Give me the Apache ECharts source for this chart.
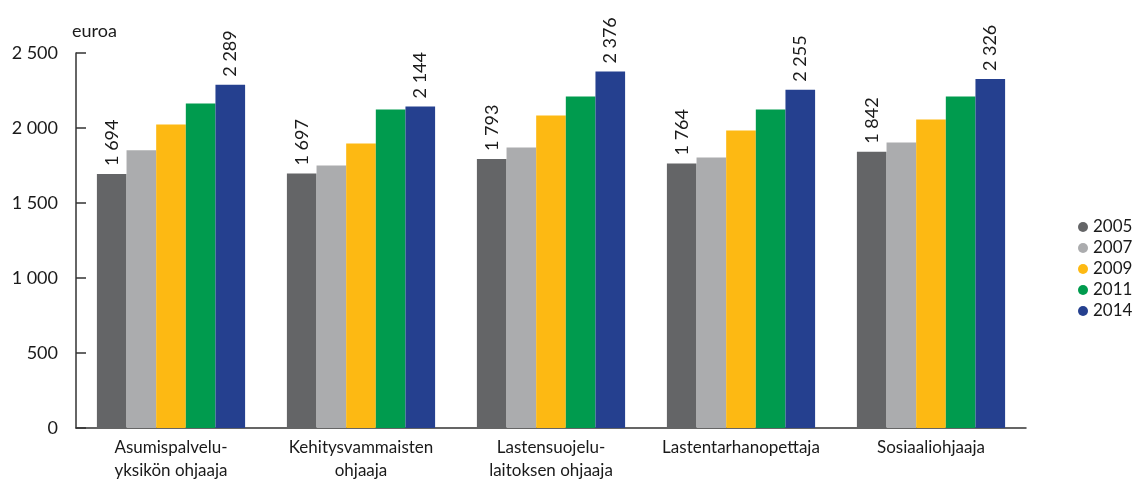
<!DOCTYPE html>
<html>
<head>
<meta charset="utf-8">
<script src="https://cdn.jsdelivr.net/npm/echarts@6/dist/echarts.min.js"></script>
<style>
  html, body { margin: 0; padding: 0; background: #fff; }
  #chart { width: 1138px; height: 484px; }
</style>
</head>
<body>
<div id="chart"></div>
<script>
const categories = [
  "Asumispalvelu-\nyksikön ohjaaja",
  "Kehitysvammaisten\nohjaaja",
  "Lastensuojelu-\nlaitoksen ohjaaja",
  "Lastentarhanopettaja",
  "Sosiaaliohjaaja"
];
const years = ["2005", "2007", "2009", "2011", "2014"];
const v2005 = [1694, 1697, 1793, 1764, 1842];
const v2007 = [1852, 1750, 1870, 1803, 1903];
const v2009 = [2023, 1897, 2083, 1983, 2057];
const v2011 = [2163, 2123, 2210, 2123, 2210];
const v2014 = [2289, 2144, 2376, 2255, 2326];
const colors = ["#646567", "#abacae", "#fdb913", "#009b4e", "#25408f"];

const fmt = v => String(v).replace(/\B(?=(\d{3})+(?!\d))/g, " ");
const font = "Lato";

const chart = echarts.init(document.getElementById("chart"));

// only first and last year get value labels
const mkSeries = (name, data, labelled) => ({
  name: name,
  type: "bar",
  data: data,
  barGap: "0%",
  barCategoryGap: "22%",
  label: {
    show: labelled,
    position: "top",
    rotate: 90,
    align: "left",
    verticalAlign: "middle",
    distance: 8,
    fontFamily: font,
    fontSize: 18,
    color: "#1a1a1a",
    formatter: p => fmt(p.value)
  }
});

chart.setOption({
  animation: false,
  color: colors,
  textStyle: { fontFamily: font },
  title: {
    text: "euroa",
    left: 67,
    top: 17,
    textStyle: { fontFamily: font, fontSize: 18, fontWeight: "normal", color: "#1a1a1a" }
  },
  legend: {
    data: years,
    orient: "vertical",
    left: 1073,
    top: 213,
    icon: "circle",
    itemWidth: 10,
    itemHeight: 10,
    itemGap: 3,
    textStyle: { fontFamily: font, fontSize: 17, lineHeight: 18, color: "#1a1a1a" }
  },
  grid: { left: 76, right: 112, top: 53, bottom: 56 },
  xAxis: {
    type: "category",
    data: categories,
    axisLine: { lineStyle: { color: "#333", width: 1.5 } },
    axisTick: { show: false },
    axisLabel: {
      interval: 0,
      margin: 8,
      fontFamily: font,
      fontSize: 17,
      lineHeight: 23,
      color: "#1a1a1a"
    }
  },
  yAxis: {
    type: "value",
    min: 0,
    max: 2500,
    interval: 500,
    axisLine: { show: true, lineStyle: { color: "#333", width: 1.5 } },
    axisTick: { show: true, inside: true, length: 10, lineStyle: { color: "#333", width: 1.5 } },
    splitLine: { show: false },
    axisLabel: {
      margin: 18,
      fontFamily: font,
      fontSize: 18,
      color: "#1a1a1a",
      formatter: v => fmt(v)
    }
  },
  series: [
    mkSeries(years[0], v2005, true),
    mkSeries(years[1], v2007, false),
    mkSeries(years[2], v2009, false),
    mkSeries(years[3], v2011, false),
    mkSeries(years[4], v2014, true)
  ]
});
</script>
</body>
</html>
